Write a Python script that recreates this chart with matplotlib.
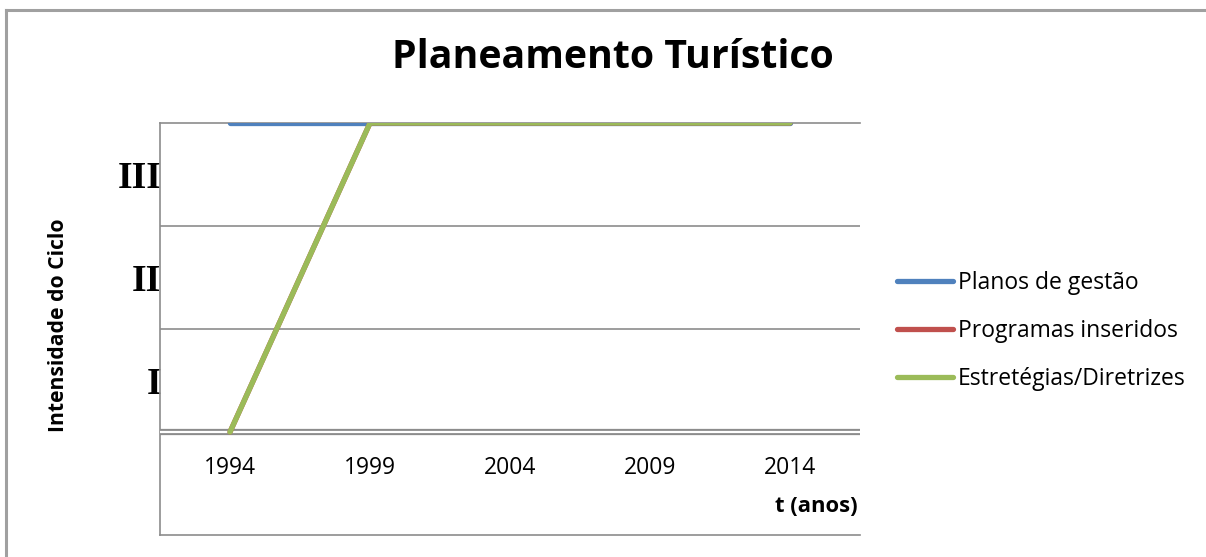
import matplotlib
matplotlib.use('Agg')
from matplotlib import pyplot as plt
from matplotlib.lines import Line2D
from matplotlib.transforms import ScaledTranslation

# dados
anos = ['1994', '1999', '2004', '2009', '2014']
planos_gestao = [3, 3, 3, 3, 3]
programas_inseridos = [0, 3, 3, 3, 3]
estrategias = [0, 3, 3, 3, 3]
niveis = ['I', 'II', 'III']
niveis_pos = [0.5, 1.5, 2.5]

plt.rcParams['font.family'] = ['Open Sans', 'DejaVu Sans']

W, H = 1206, 557
fig = plt.figure(figsize=(W / 100, H / 100), dpi=100)
ax = fig.add_axes([160 / W, 1 - 535 / H, 700 / W, 412 / H])

x = range(len(anos))
ax.plot(x, planos_gestao, color='#4F81BD', lw=3.8, solid_capstyle='round', label='Planos de gestão', zorder=5)
ax.plot(x, programas_inseridos, color='#C0504D', lw=3.8, solid_capstyle='round', label='Programas inseridos', zorder=6)
ax.plot(x, estrategias, color='#9BBB59', lw=3.8, solid_capstyle='round', label='Estretégias/Diretrizes', zorder=7)

ax.set_xlim(-0.5, 4.5)
ax.set_ylim(-1, 3)

# linhas de grelha
grid = '#8c8c8c'
for yv in [1, 2]:
    ax.axhline(yv, color=grid, lw=1.2, zorder=1)
ax.axhline(0, color=grid, lw=4.5, zorder=2)
ax.axhline(0, color='white', lw=1.6, zorder=3)

ax.spines['right'].set_visible(False)
for s in ['left', 'top', 'bottom']:
    ax.spines[s].set_color(grid)
    ax.spines[s].set_linewidth(1.2)

# rótulos x abaixo da linha y=0
ax.set_xticks([])
for i, a in enumerate(anos):
    ax.text(i, 0, a, fontsize=16.5, ha='center', va='center',
            transform=ax.transData + ScaledTranslation(0, -36 / 100, fig.dpi_scale_trans))

ax.set_yticks(niveis_pos)
ax.set_yticklabels(niveis, family='Liberation Serif', fontsize=27, fontweight='bold')
ax.tick_params(axis='y', length=0, pad=-1)

fig.text(613 / W, 1 - 68 / H, 'Planeamento Turístico', ha='center', va='baseline',
         fontsize=28.3, fontweight='bold')
fig.text(59 / W, 1 - 325 / H, 'Intensidade do Ciclo', ha='center', va='center',
         rotation=90, fontsize=15.2, fontweight='bold')
fig.text(858 / W, 1 - 507 / H, 't (anos)', ha='right', va='center',
         fontsize=15.8, fontweight='bold')

ax.legend(loc='center left', bbox_to_anchor=(897 / W, 1 - 331 / H),
          bbox_transform=fig.transFigure, frameon=False, fontsize=16.5,
          handlelength=2.45, handletextpad=0.2, labelspacing=1.05,
          borderpad=0, borderaxespad=0)

# moldura exterior
fig.add_artist(Line2D([6 / W, 6 / W], [0, 1 - 10 / H], color='#a0a0a0', lw=2.2, transform=fig.transFigure))
fig.add_artist(Line2D([6 / W, 1], [1 - 10 / H, 1 - 10 / H], color='#a0a0a0', lw=2.2, transform=fig.transFigure))

fig.savefig('out.png', dpi=100)
